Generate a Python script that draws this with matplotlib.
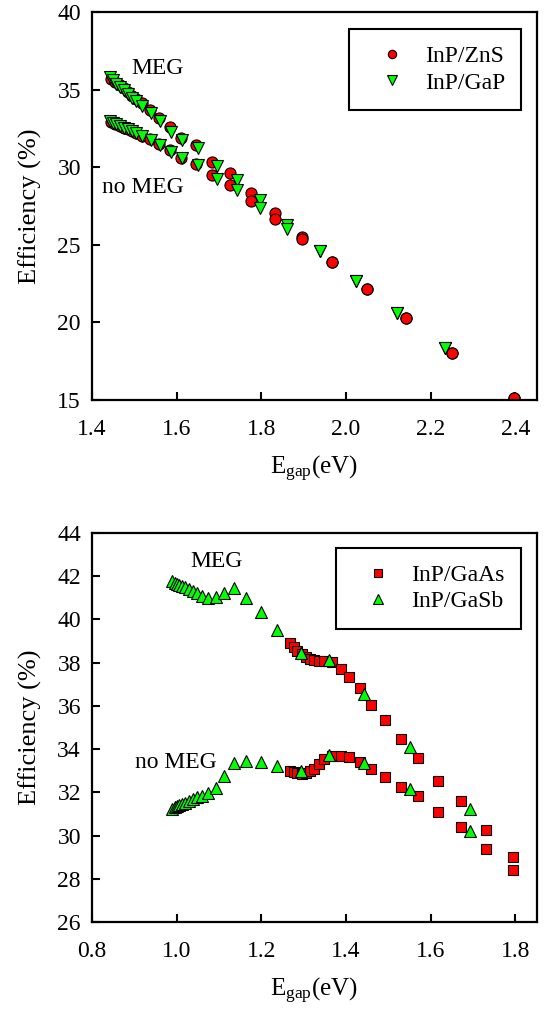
import matplotlib
matplotlib.use("Agg")
import matplotlib.pyplot as plt

plt.rcParams['font.family'] = ['Liberation Serif', 'DejaVu Serif']
plt.rcParams['mathtext.fontset'] = 'custom'
plt.rcParams['mathtext.rm'] = 'Liberation Serif'
plt.rcParams['mathtext.it'] = 'Liberation Serif:italic'

# === top panel: InP/ZnS and InP/GaP ===
x_zns = [1.445, 1.455, 1.465, 1.475, 1.485, 1.495, 1.505, 1.518, 1.538, 1.558,
         1.585, 1.611, 1.645, 1.684, 1.727, 1.776, 1.833, 1.897, 1.968, 2.049,
         2.141, 2.250, 2.396]
meg_zns = [35.7, 35.5, 35.3, 35.1, 34.85, 34.6, 34.4, 34.12, 33.69, 33.15,
           32.61, 31.9, 31.43, 30.33, 29.63, 28.34, 27.05, 25.5, 23.9, 22.15,
           20.28, 18.03, 15.13]
nomeg_zns = [32.9, 32.78, 32.66, 32.55, 32.44, 32.33, 32.22, 32.03, 31.8, 31.5,
             31.1, 30.6, 30.2, 29.5, 28.85, 27.82, 26.66, 25.35, 23.9, 22.15,
             20.28, 18.03, 15.13]

x_gap = [1.442, 1.449, 1.457, 1.465, 1.475, 1.485, 1.495, 1.504, 1.519, 1.540,
         1.560, 1.586, 1.613, 1.651, 1.696, 1.743, 1.797, 1.861, 1.939, 2.024,
         2.121, 2.233]
meg_gap = [35.8, 35.6, 35.4, 35.19, 34.97, 34.7, 34.48, 34.27, 33.96, 33.47,
           32.98, 32.29, 31.75, 31.22, 30.08, 29.17, 27.89, 26.28, 24.6, 22.67,
           20.6, 18.35]
nomeg_gap = [33.0, 32.88, 32.77, 32.66, 32.55, 32.45, 32.35, 32.2, 32.03, 31.75,
             31.43, 30.96, 30.57, 30.14, 29.24, 28.53, 27.37, 26.0, 24.6, 22.67,
             20.6, 18.35]

# === bottom panel: InP/GaAs and InP/GaSb ===
x_gaas = [1.268, 1.276, 1.285, 1.295, 1.305, 1.315, 1.325, 1.336, 1.348, 1.368,
          1.388, 1.408, 1.432, 1.460, 1.491, 1.529, 1.570, 1.618, 1.671, 1.730,
          1.795]
meg_gaas = [38.9, 38.7, 38.55, 38.4, 38.25, 38.15, 38.1, 38.08, 38.07, 38.04,
            37.69, 37.32, 36.81, 36.04, 35.34, 34.46, 33.6, 32.52, 31.6, 30.25,
            29.0]
nomeg_gaas = [33.0, 32.93, 32.88, 32.87, 32.9, 32.98, 33.1, 33.3, 33.55, 33.68,
              33.68, 33.65, 33.41, 33.1, 32.72, 32.25, 31.82, 31.07, 30.4, 29.37,
              28.4]

x_gasb = [0.988, 0.995, 1.001, 1.006, 1.012, 1.020, 1.029, 1.039, 1.049, 1.060,
          1.075, 1.092, 1.112, 1.136, 1.164, 1.199, 1.238, 1.293, 1.360, 1.442,
          1.551, 1.693]
meg_gasb = [41.78, 41.70, 41.64, 41.58, 41.53, 41.48, 41.41, 41.31, 41.2, 41.1,
            41.0, 41.02, 41.2, 41.44, 41.0, 40.36, 39.52, 38.43, 38.12, 36.55,
            34.08, 31.25]
nomeg_gasb = [31.25, 31.3, 31.35, 31.39, 31.44, 31.5, 31.59, 31.68, 31.76, 31.85,
              31.95, 32.18, 32.75, 33.34, 33.46, 33.39, 33.2, 33.0, 33.72, 33.37,
              32.15, 30.2]

RED = '#ff0000'
GREEN = '#00ff00'
FS = 17


def style_axes(ax, xlim, ylim, xticks, yticks):
    ax.set_xlim(*xlim)
    ax.set_ylim(*ylim)
    ax.set_xticks(xticks)
    ax.set_yticks(yticks)
    ax.set_xticklabels([f"{t:.1f}" for t in xticks])
    ax.set_yticklabels([f"{t:d}" for t in yticks])
    for s in ax.spines.values():
        s.set_linewidth(1.6)
    ax.tick_params(direction='in', length=6, width=1.5, labelsize=FS)
    ax.tick_params(axis='x', pad=14)
    ax.tick_params(axis='y', pad=8)
    ax.set_xlabel(r'E$_{\rm gap}$(eV)', fontsize=18, labelpad=10)
    ax.set_ylabel('Efficiency (%)', fontsize=19, labelpad=11)


def add_legend(ax, y_anchor):
    leg = ax.legend(loc='upper right', bbox_to_anchor=(0.966, y_anchor),
                    fontsize=FS, frameon=True, fancybox=False,
                    edgecolor='black', framealpha=1, markerscale=0.75,
                    handlelength=2.2, handletextpad=0.3, borderpad=0.7,
                    labelspacing=0.2, borderaxespad=0)
    leg.get_frame().set_linewidth(1.5)


fig = plt.figure(figsize=(5.56, 10.15), dpi=100)
ax1 = fig.add_axes([0.1655, 0.606, 0.7995, 0.382])
ax2 = fig.add_axes([0.1655, 0.0916, 0.7995, 0.3834])

mk = dict(linestyle='none', markeredgecolor='black', markeredgewidth=0.8)

# top panel (draw GaP on top of ZnS)
ax1.plot(x_zns, meg_zns, 'o', color=RED, markersize=8, label='InP/ZnS', **mk)
ax1.plot(x_zns, nomeg_zns, 'o', color=RED, markersize=8, **mk)
ax1.plot(x_gap, meg_gap, 'v', color=GREEN, markersize=9, label='InP/GaP', **mk)
ax1.plot(x_gap, nomeg_gap, 'v', color=GREEN, markersize=9, **mk)
style_axes(ax1, (1.4, 2.45), (15, 40), [1.4, 1.6, 1.8, 2.0, 2.2, 2.4],
           [15, 20, 25, 30, 35, 40])
ax1.text(1.494, 36.4, 'MEG', fontsize=FS, va='center', ha='left')
ax1.text(1.4235, 28.72, 'no MEG', fontsize=FS, va='center', ha='left')
add_legend(ax1, 0.956)

# bottom panel
ax2.plot(x_gaas, meg_gaas, 's', color=RED, markersize=7.8, label='InP/GaAs', **mk)
ax2.plot(x_gaas, nomeg_gaas, 's', color=RED, markersize=7.8, **mk)
ax2.plot(x_gasb, meg_gasb, '^', color=GREEN, markersize=9, label='InP/GaSb', **mk)
ax2.plot(x_gasb, nomeg_gasb, '^', color=GREEN, markersize=9, **mk)
style_axes(ax2, (0.8, 1.85), (26, 44), [0.8, 1.0, 1.2, 1.4, 1.6, 1.8],
           [26, 28, 30, 32, 34, 36, 38, 40, 42, 44])
ax2.text(1.033, 42.66, 'MEG', fontsize=FS, va='center', ha='left')
ax2.text(0.901, 33.4, 'no MEG', fontsize=FS, va='center', ha='left')
add_legend(ax2, 0.961)

fig.savefig('out.png', dpi=100)
